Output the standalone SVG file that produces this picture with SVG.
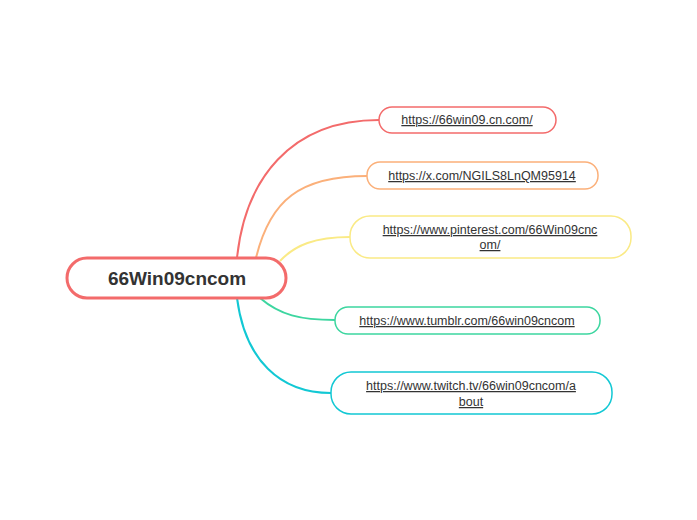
<svg xmlns="http://www.w3.org/2000/svg" width="697" height="520" viewBox="0 0 697 520">
<style>
text{font-family:"Liberation Sans",Arial,sans-serif;fill:#333;text-anchor:middle}
.l{font-size:12.5px;text-decoration:underline}
.n{fill:#fff;stroke-width:1.5}
.c{fill:none;stroke-width:2}
</style>
<rect width="697" height="520" fill="#fff"/>
<g id="connectors">
<path class="c" stroke="#f36b6b" d="M237,258 C245,180 290,120 379,120"/>
<path class="c" stroke="#fbb07a" d="M256,258 C270,200 300,176 367,176"/>
<path class="c" stroke="#faea85" d="M280,261 C295,245 315,237 350,237"/>
<path class="c" stroke="#3dd6a0" d="M260,298 C280,315 300,320 335,320"/>
<path class="c" stroke="#12c8d4" d="M237,298 C245,360 280,393 331,393"/>
</g>
<g id="root"><rect x="67" y="258" width="219" height="40" rx="20" fill="#fff" stroke="#f36b6b" stroke-width="3"/><text x="177" y="285" font-size="19" font-weight="bold">66Win09cncom</text></g>
<g id="n1"><rect class="n" x="379" y="107" width="177" height="26" rx="13" stroke="#f36b6b"/><text class="l" x="467" y="124">https://66win09.cn.com/</text></g>
<g id="n2"><rect class="n" x="367" y="162" width="231" height="27" rx="13" stroke="#fbb07a"/><text class="l" x="482" y="180">https://x.com/NGILS8LnQM95914</text></g>
<g id="n3"><rect class="n" x="350" y="216" width="281" height="42" rx="20" stroke="#faea85"/><text class="l" x="490" y="234">https://www.pinterest.com/66Win09cnc</text><text class="l" x="490" y="249">om/</text></g>
<g id="n4"><rect class="n" x="335" y="307" width="265" height="27" rx="13" stroke="#3dd6a0"/><text class="l" x="467" y="325">https://www.tumblr.com/66win09cncom</text></g>
<g id="n5"><rect class="n" x="331" y="372" width="281" height="42" rx="20" stroke="#12c8d4"/><text class="l" x="471" y="390">https://www.twitch.tv/66win09cncom/a</text><text class="l" x="471" y="406">bout</text></g>
</svg>
